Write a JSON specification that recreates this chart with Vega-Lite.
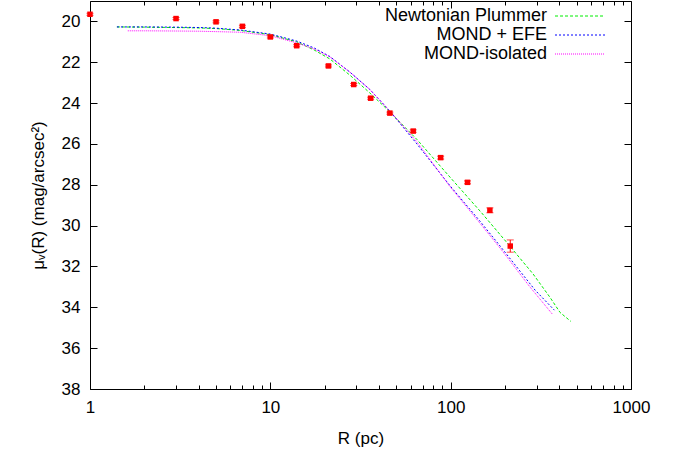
{
  "$schema": "https://vega.github.io/schema/vega-lite/v6.json",
  "width": 541,
  "height": 388,
  "autosize": {"type": "none"},
  "padding": {"left": 90, "top": 1, "right": 49, "bottom": 61},
  "background": "white",
  "config": {
    "view": {"stroke": "black", "strokeWidth": 1},
    "font": "Liberation Sans",
    "axis": {"grid": false, "domain": false, "tickColor": "black", "labelColor": "black", "titleColor": "black", "labelFont": "Liberation Sans", "titleFont": "Liberation Sans", "labelFontSize": 17, "titleFontSize": 17, "titleFontWeight": "normal"}
  },
  "datasets": {
    "obs": [
      {"R": 1, "mu": 19.65, "err": 0.05},
      {"R": 3, "mu": 19.86, "err": 0.05},
      {"R": 5, "mu": 20.02, "err": 0.05},
      {"R": 7, "mu": 20.24, "err": 0.05},
      {"R": 10, "mu": 20.76, "err": 0.05},
      {"R": 14, "mu": 21.19, "err": 0.05},
      {"R": 21, "mu": 22.18, "err": 0.05},
      {"R": 29, "mu": 23.09, "err": 0.05},
      {"R": 36, "mu": 23.76, "err": 0.05},
      {"R": 46, "mu": 24.49, "err": 0.05},
      {"R": 62, "mu": 25.37, "err": 0.06},
      {"R": 88, "mu": 26.67, "err": 0.07},
      {"R": 124, "mu": 27.88, "err": 0.07},
      {"R": 165, "mu": 29.25, "err": 0.12},
      {"R": 214, "mu": 31.0, "err": 0.3}
    ],
    "models": [
      {"model": "Newtonian Plummer", "R": 1.41, "mu": 20.27},
      {"model": "Newtonian Plummer", "R": 2, "mu": 20.28},
      {"model": "Newtonian Plummer", "R": 3, "mu": 20.3},
      {"model": "Newtonian Plummer", "R": 4.07, "mu": 20.32},
      {"model": "Newtonian Plummer", "R": 5, "mu": 20.35},
      {"model": "Newtonian Plummer", "R": 6.8, "mu": 20.44},
      {"model": "Newtonian Plummer", "R": 10, "mu": 20.65},
      {"model": "Newtonian Plummer", "R": 14, "mu": 21.0},
      {"model": "Newtonian Plummer", "R": 17.5, "mu": 21.4},
      {"model": "Newtonian Plummer", "R": 21.4, "mu": 21.84},
      {"model": "Newtonian Plummer", "R": 27.6, "mu": 22.63},
      {"model": "Newtonian Plummer", "R": 35.6, "mu": 23.5},
      {"model": "Newtonian Plummer", "R": 46, "mu": 24.43},
      {"model": "Newtonian Plummer", "R": 65, "mu": 25.78},
      {"model": "Newtonian Plummer", "R": 99, "mu": 27.62},
      {"model": "Newtonian Plummer", "R": 148, "mu": 29.36},
      {"model": "Newtonian Plummer", "R": 205, "mu": 30.83},
      {"model": "Newtonian Plummer", "R": 286, "mu": 32.36},
      {"model": "Newtonian Plummer", "R": 356, "mu": 33.52},
      {"model": "Newtonian Plummer", "R": 404, "mu": 34.25},
      {"model": "Newtonian Plummer", "R": 464, "mu": 34.69},
      {"model": "MOND + EFE", "R": 1.41, "mu": 20.27},
      {"model": "MOND + EFE", "R": 2, "mu": 20.27},
      {"model": "MOND + EFE", "R": 3, "mu": 20.28},
      {"model": "MOND + EFE", "R": 4.07, "mu": 20.3},
      {"model": "MOND + EFE", "R": 5, "mu": 20.33},
      {"model": "MOND + EFE", "R": 6.8, "mu": 20.42},
      {"model": "MOND + EFE", "R": 10, "mu": 20.62},
      {"model": "MOND + EFE", "R": 14, "mu": 20.96},
      {"model": "MOND + EFE", "R": 17.5, "mu": 21.3},
      {"model": "MOND + EFE", "R": 21.4, "mu": 21.72},
      {"model": "MOND + EFE", "R": 27.6, "mu": 22.48},
      {"model": "MOND + EFE", "R": 35.6, "mu": 23.33},
      {"model": "MOND + EFE", "R": 46, "mu": 24.39},
      {"model": "MOND + EFE", "R": 65, "mu": 26.0},
      {"model": "MOND + EFE", "R": 99, "mu": 28.04},
      {"model": "MOND + EFE", "R": 145, "mu": 29.77},
      {"model": "MOND + EFE", "R": 188, "mu": 31.0},
      {"model": "MOND + EFE", "R": 294, "mu": 33.16},
      {"model": "MOND + EFE", "R": 376, "mu": 34.14},
      {"model": "MOND-isolated", "R": 1.62, "mu": 20.46},
      {"model": "MOND-isolated", "R": 2, "mu": 20.46},
      {"model": "MOND-isolated", "R": 3, "mu": 20.47},
      {"model": "MOND-isolated", "R": 4.07, "mu": 20.48},
      {"model": "MOND-isolated", "R": 5, "mu": 20.5},
      {"model": "MOND-isolated", "R": 6.8, "mu": 20.53},
      {"model": "MOND-isolated", "R": 10, "mu": 20.7},
      {"model": "MOND-isolated", "R": 14, "mu": 21.05},
      {"model": "MOND-isolated", "R": 17.5, "mu": 21.35},
      {"model": "MOND-isolated", "R": 21.4, "mu": 21.74},
      {"model": "MOND-isolated", "R": 27.6, "mu": 22.48},
      {"model": "MOND-isolated", "R": 35.6, "mu": 23.33},
      {"model": "MOND-isolated", "R": 46, "mu": 24.39},
      {"model": "MOND-isolated", "R": 65, "mu": 25.9},
      {"model": "MOND-isolated", "R": 99, "mu": 28.08},
      {"model": "MOND-isolated", "R": 145, "mu": 29.87},
      {"model": "MOND-isolated", "R": 188, "mu": 31.1},
      {"model": "MOND-isolated", "R": 275, "mu": 33.0},
      {"model": "MOND-isolated", "R": 366, "mu": 34.33}
    ]
  },
  "layer": [
    {
      "data": {"name": "models"},
      "mark": {"type": "line", "strokeWidth": 1, "clip": true},
      "encoding": {
        "x": {
          "field": "R", "type": "quantitative",
          "scale": {"type": "log", "domain": [1, 1000]},
          "axis": {
            "orient": "bottom", "title": "R (pc)",
            "values": [1,2,3,4,5,6,7,8,9,10,20,30,40,50,60,70,80,90,100,200,300,400,500,600,700,800,900,1000],
            "format": "d",
            "labelExpr": "(datum.value == 1 || datum.value == 10 || datum.value == 100 || datum.value == 1000) ? datum.label : ''",
            "tickSize": {"condition": {"test": "datum.value == 1 || datum.value == 10 || datum.value == 100 || datum.value == 1000", "value": -7}, "value": -4},
            "labelPadding": 17, "titlePadding": 15, "labelFlush": false
          }
        },
        "y": {
          "field": "mu", "type": "quantitative",
          "scale": {"domain": [19, 38], "reverse": true, "nice": false, "zero": false},
          "axis": {
            "orient": "left", "values": [20,22,24,26,28,30,32,34,36,38],
            "tickSize": -7, "labelPadding": 17,
            "title": "μᵥ(R)  (mag/arcsec²)", "titlePadding": 14
          }
        },
        "color": {
          "field": "model", "type": "nominal",
          "scale": {"domain": ["Newtonian Plummer", "MOND + EFE", "MOND-isolated"], "range": ["#00ee00", "#0000ff", "#ff00ff"]},
          "legend": {"orient": "none", "legendX": 481, "legendY": 6, "title": null, "labelAlign": "right", "labelOffset": -42, "labelLimit": 400, "labelFontSize": 18, "labelFont": "Liberation Sans", "labelColor": "black", "symbolType": "M-5,0H5", "symbolSize": 100, "symbolStrokeWidth": 1, "rowPadding": 1, "padding": 0}
        },
        "strokeDash": {
          "field": "model", "type": "nominal",
          "scale": {"domain": ["Newtonian Plummer", "MOND + EFE", "MOND-isolated"], "range": [[3, 2], [2, 2], [1, 1]]},
          "legend": {"orient": "none", "legendX": 481, "legendY": 6, "title": null, "labelAlign": "right", "labelOffset": -42, "labelLimit": 400, "labelFontSize": 18, "labelFont": "Liberation Sans", "labelColor": "black", "symbolType": "M-5,0H5", "symbolSize": 100, "symbolStrokeWidth": 1, "rowPadding": 1, "padding": 0}
        }
      }
    },
    {
      "data": {"name": "obs"},
      "mark": {"type": "errorbar", "ticks": {"size": 7}, "color": "#ff0000", "thickness": 1},
      "encoding": {
        "x": {"field": "R", "type": "quantitative", "scale": {"type": "log", "domain": [1, 1000]}, "axis": null},
        "y": {"field": "mu", "type": "quantitative", "scale": {"domain": [19, 38], "reverse": true, "nice": false, "zero": false}, "axis": null},
        "yError": {"field": "err"}
      }
    },
    {
      "data": {"name": "obs"},
      "mark": {"type": "point", "shape": "square", "filled": true, "color": "#ff0000", "size": 30, "opacity": 1},
      "encoding": {
        "x": {
          "field": "R", "type": "quantitative",
          "scale": {"type": "log", "domain": [1, 1000]},
          "axis": {
            "orient": "top", "labels": false, "title": null,
            "values": [1,2,3,4,5,6,7,8,9,10,20,30,40,50,60,70,80,90,100,200,300,400,500,600,700,800,900,1000],
            "tickSize": {"condition": {"test": "datum.value == 1 || datum.value == 10 || datum.value == 100 || datum.value == 1000", "value": -7}, "value": -4}
          }
        },
        "y": {
          "field": "mu", "type": "quantitative",
          "scale": {"domain": [19, 38], "reverse": true, "nice": false, "zero": false},
          "axis": {"orient": "right", "labels": false, "title": null, "values": [20,22,24,26,28,30,32,34,36,38], "tickSize": -7}
        }
      }
    }
  ],
  "resolve": {"axis": {"x": "independent", "y": "independent"}}
}
